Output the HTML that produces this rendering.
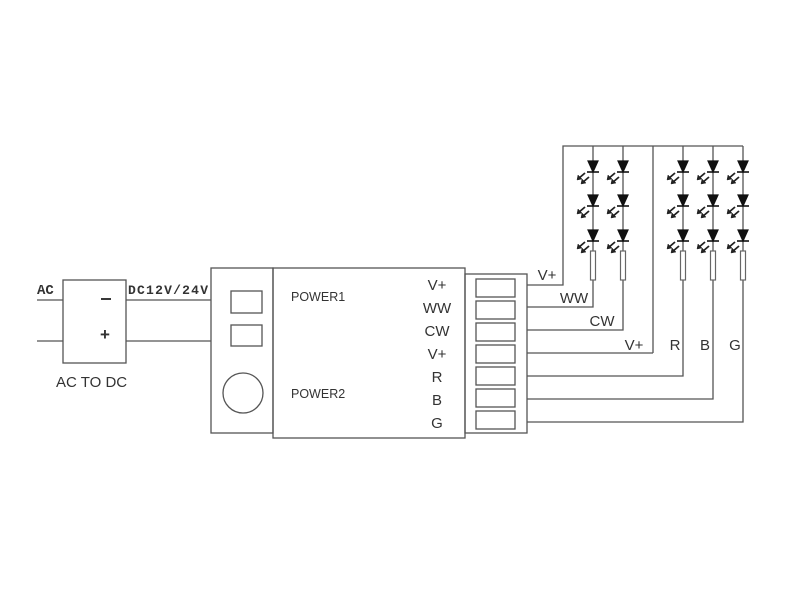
<!DOCTYPE html>
<html><head><style>
html,body{margin:0;padding:0;background:#fff;}
svg{display:block;}
text{fill:#333;}
</style></head><body>
<svg width="800" height="600" viewBox="0 0 800 600" xmlns="http://www.w3.org/2000/svg" font-family="Liberation Sans, sans-serif">
<g stroke="#555" stroke-width="1.3" fill="none">
<rect x="63" y="280" width="63" height="83"/>
<line x1="37" y1="300" x2="63" y2="300"/>
<line x1="37" y1="341" x2="63" y2="341"/>
<line x1="126" y1="300" x2="211" y2="300"/>
<line x1="126" y1="341" x2="211" y2="341"/>
<rect x="211" y="268" width="62" height="165"/>
<rect x="273" y="268" width="192" height="170"/>
<rect x="231" y="291" width="31" height="22"/>
<rect x="231" y="325" width="31" height="21"/>
<circle cx="243" cy="393" r="20"/>
<rect x="465" y="274" width="62" height="159"/>
<rect x="476" y="279" width="39" height="18"/>
<rect x="476" y="301" width="39" height="18"/>
<rect x="476" y="323" width="39" height="18"/>
<rect x="476" y="345" width="39" height="18"/>
<rect x="476" y="367" width="39" height="18"/>
<rect x="476" y="389" width="39" height="18"/>
<rect x="476" y="411" width="39" height="18"/>
<polyline points="527,285 563,285 563,146 743,146"/>
<line x1="653" y1="146" x2="653" y2="353"/>
<polyline points="527,307 593,307 593,146"/>
<polyline points="527,330 623,330 623,146"/>
<polyline points="527,353 653,353"/>
<polyline points="527,376 683,376 683,146"/>
<polyline points="527,399 713,399 713,146"/>
<polyline points="527,422 743,422 743,146"/>
</g>
<defs>
<g id="led">
<polygon points="-5,0 5,0 0,11" fill="#111" stroke="#111" stroke-width="1.2"/>
<line x1="-6" y1="11" x2="6" y2="11" stroke="#111" stroke-width="1.6"/>
<g stroke="#222" stroke-width="1.8" fill="#222">
<line x1="-8" y1="12" x2="-15" y2="18"/><polygon points="-16,19 -15,14 -11,18" stroke-width="0.5"/>
<line x1="-4" y1="16" x2="-11" y2="22"/><polygon points="-12,23 -11,18 -7,22" stroke-width="0.5"/>
</g>
</g>
<g id="column">
<use href="#led" y="161"/>
<use href="#led" y="195"/>
<use href="#led" y="230"/>
<rect x="-2.5" y="251" width="5" height="29" fill="#fff" stroke="#666" stroke-width="1.2"/>
</g>
</defs>
<use href="#column" x="593"/>
<use href="#column" x="623"/>
<use href="#column" x="683"/>
<use href="#column" x="713"/>
<use href="#column" x="743"/>
<text x="37" y="294" font-size="14" font-family="Liberation Mono, monospace" font-weight="bold">AC</text>
<text x="128" y="294" font-size="13" font-family="Liberation Mono, monospace" font-weight="bold" textLength="80">DC12V/24V</text>
<line x1="101" y1="299" x2="111" y2="299" stroke="#222" stroke-width="1.8"/>
<text x="100" y="340" font-size="17" font-weight="bold">+</text>
<text x="56" y="387" font-size="15">AC TO DC</text>
<text x="291" y="301" font-size="12.5">POWER1</text>
<text x="291" y="398" font-size="12.5">POWER2</text>
<g font-size="15" text-anchor="middle">
<text x="437" y="290">V+</text>
<text x="437" y="313">WW</text>
<text x="437" y="336">CW</text>
<text x="437" y="359">V+</text>
<text x="437" y="382">R</text>
<text x="437" y="405">B</text>
<text x="437" y="428">G</text>
<text x="547" y="280">V+</text>
<text x="574" y="303">WW</text>
<text x="602" y="326">CW</text>
<text x="634" y="350">V+</text>
<text x="675" y="350">R</text>
<text x="705" y="350">B</text>
<text x="735" y="350">G</text>
</g>
</svg>
</body></html>
